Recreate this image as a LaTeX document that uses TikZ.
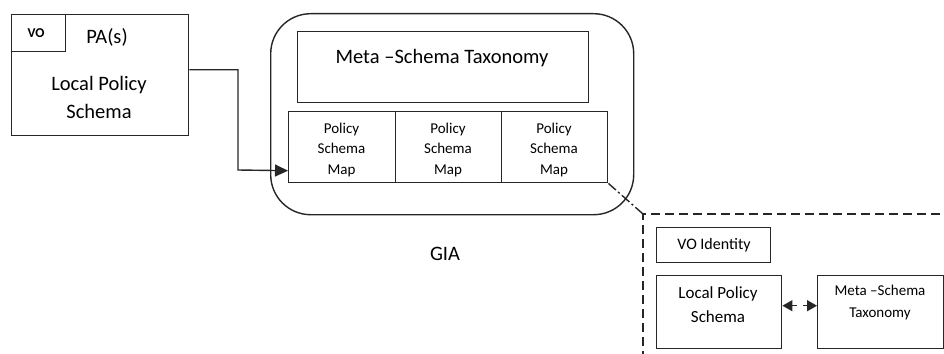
\documentclass[tikz,border=0pt]{standalone}
\usepackage{fontspec}
\setmainfont{Carlito}
\usetikzlibrary{arrows.meta,calc}
\colorlet{ink}{black!85}
\begin{document}
\begin{tikzpicture}[x=1pt,y=-1pt,
  line width=1.4pt,
  box/.style={draw=ink, rectangle, inner sep=0pt, anchor=north west},
  wire/.style={draw=ink},
  txt/.style={inner sep=0pt, font=#1},
  txt/.default={\fontsize{20.5}{22}\selectfont},
  head/.style={-{Triangle[length=13pt,width=12pt]}},
  dhead/.style={{Triangle[length=10pt,width=11pt]}-{Triangle[length=10pt,width=11pt]}},
]
\useasboundingbox (0,0) rectangle (944,353);
% left box
\node[box, minimum width=177pt, minimum height=121pt] (lps) at (11,14) {};
\node[box, minimum width=54pt, minimum height=37pt] (vo) at (11,14) {};
\node[txt={\fontsize{13.5}{15}\selectfont\bfseries}] (votxt) at (36,33) {VO};
\node[txt] (pa) at (107,37) {PA(s)};
\node[txt, align=center, font=\fontsize{20.5}{28}\selectfont] (lpstxt) at (99,97) {Local Policy\\Schema};
% GIA
\node[box, rounded corners=40pt, minimum width=363pt, minimum height=201pt] (gia) at (270,13) {};
\node[box, minimum width=291pt, minimum height=71pt] (mst) at (297,31) {};
\node[txt] (msttxt) at (442,58) {Meta –Schema Taxonomy};
\node[box, minimum width=107pt, minimum height=71pt] (psm1) at (288,111) {};
\node[box, minimum width=106pt, minimum height=71pt] (psm2) at (395,111) {};
\node[box, minimum width=106pt, minimum height=71pt] (psm3) at (501,111) {};
\foreach \n/\x in {1/341.5,2/448,3/554}{
  \node[txt={\fontsize{15}{20.5}\selectfont}, align=center] (psmt\n) at (\x,149.5) {Policy\\Schema\\Map};
}
\node[txt] (giatxt) at (445,254) {GIA};
% arrow from local policy schema
\coordinate (bend) at (238,170);
\draw[wire, head] ([yshift=5.5pt]lps.east) -| (bend) -- ([yshift=-23.5pt]psm1.west);
% dashed region
\coordinate (dc) at (643,214);
\coordinate (dl) at (643,360);
\coordinate (dr) at (950,214);
\draw[wire, dash pattern=on 9pt off 5pt] (dl) -- (dc) -- (dr);
\draw[wire, dash pattern=on 10pt off 3pt on 2pt off 3pt] (psm3.south east) -- (dc);
% right side
\node[box, minimum width=114pt, minimum height=35pt] (voi) at (656,227) {};
\node[txt={\fontsize{16}{18}\selectfont}] (voitxt) at (714,245) {VO Identity};
\node[box, minimum width=125pt, minimum height=73pt] (lps2) at (656,275) {};
\node[txt, align=center, font=\fontsize{17}{24}\selectfont] (lps2txt) at (718,305) {Local Policy\\Schema};
\node[box, minimum width=126pt, minimum height=73pt] (mst2) at (817,275) {};
\node[txt, align=center, font=\fontsize{15}{22}\selectfont] (mst2txt) at (880,302) {Meta –Schema\\Taxonomy};
\draw[wire, dhead, dash pattern=on 5pt off 6pt]
  ([yshift=6.5pt]lps2.east) -- ([yshift=6.5pt]mst2.west);
\end{tikzpicture}
\end{document}
